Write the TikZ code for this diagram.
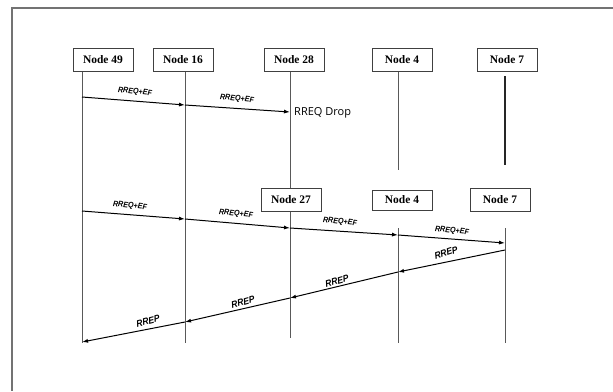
\documentclass[tikz,border=0pt]{standalone}
\usepackage{fontspec}
\setmainfont{Liberation Serif}
\setsansfont{Liberation Sans}
\newfontfamily\dropfont{Open Sans}
\usetikzlibrary{arrows.meta}
\begin{document}
\begin{tikzpicture}[x=1pt,y=-1pt,
  box/.style={draw=black!75, line width=0.9pt, fill=white, minimum width=60pt, minimum height=23pt,
    font=\bfseries\fontsize{11.5}{12}\selectfont, inner sep=1pt},
  life/.style={draw=black!65, line width=0.9pt},
  msg/.style={draw=black, line width=1pt, -{Latex[length=6pt,width=4pt]}},
  lbl/.style={font=\sffamily\bfseries\itshape\fontsize{8}{9}\selectfont, inner sep=1pt, xscale=0.9},
  rlbl/.style={font=\sffamily\bfseries\itshape\fontsize{9.5}{10}\selectfont, inner sep=1pt, xscale=0.9}]
\useasboundingbox (0,0) rectangle (613,391);
\fill[white] (0,0) rectangle (613,391);
% outer frame (cut off at right and bottom)
\draw[black!55, line width=1.6pt] (613,8) -- (12,8) -- (12,391);

% top row of nodes
\node[box] (n49) at (103,60) {Node 49};
\node[box] (n16) at (183,60) {Node 16};
\node[box] (n28) at (294,60) {Node 28};
\node[box] (n4a) at (402,60) {Node 4};
\node[box] (n7a) at (507,60) {Node 7};
% lower row of nodes
\node[box] (n27) at (291,200) {Node 27};
\node[box, minimum height=20pt] (n4b) at (402,200) {Node 4};
\node[box] (n7b) at (500,200) {Node 7};

% lifeline end points
\coordinate (l49t) at (82,72);   \coordinate (l49b) at (82,343);
\coordinate (l16t) at (185,72);  \coordinate (l16b) at (185,343);
\coordinate (l28t) at (290,72);  \coordinate (l28b) at (290,188);
\coordinate (l27t) at (290,212); \coordinate (l27b) at (290,338);
\coordinate (l4at) at (398,72);  \coordinate (l4ab) at (398,170);
\coordinate (l7at) at (505,76);  \coordinate (l7ab) at (505,165);
\coordinate (l4bt) at (398,228); \coordinate (l4bb) at (398,343);
\coordinate (l7bt) at (505,228); \coordinate (l7bb) at (505,343);

\draw[life] (l49t) -- (l49b);
\draw[life] (l16t) -- (l16b);
\draw[life] (l28t) -- (l28b);
\draw[life] (l27t) -- (l27b);
\draw[life] (l4at) -- (l4ab);
\draw[life, draw=black!85, line width=1.6pt] (l7at) -- (l7ab);
\draw[life] (l4bt) -- (l4bb);
\draw[life] (l7bt) -- (l7bb);

% message points
\coordinate (a1) at (82,97);  \coordinate (a2) at (185,105); \coordinate (a3) at (290,112);
\coordinate (b1) at (82,211); \coordinate (b2) at (185,219); \coordinate (b3) at (290,228);
\coordinate (b4) at (398,235); \coordinate (b5) at (505,243);
\coordinate (c1) at (505,250); \coordinate (c2) at (398,272); \coordinate (c3) at (290,298);
\coordinate (c4) at (185,322); \coordinate (c5) at (82,342);

% first attempt
\draw[msg] (a1) -- (a2);
\draw[msg] (a2) -- (a3);
\node[lbl, rotate=-6] (la1) at (135,92) {RREQ+EF};
\node[lbl, rotate=-6] (la2) at (237,99) {RREQ+EF};
\node[font=\dropfont\fontsize{11}{12}\selectfont, anchor=west, inner sep=0pt] (drop) at (294,113) {RREQ Drop};

% second attempt
\draw[msg] (b1) -- (b2);
\draw[msg] (b2) -- (b3);
\draw[msg] (b3) -- (b4);
\draw[msg] (b4) -- (b5);
\node[lbl, rotate=-6] (lb1) at (130,206) {RREQ+EF};
\node[lbl, rotate=-6] (lb2) at (236,214) {RREQ+EF};
\node[lbl, rotate=-6] (lb3) at (340,222) {RREQ+EF};
\node[lbl, rotate=-6] (lb4) at (452,231) {RREQ+EF};

% replies
\draw[msg] (c1) -- (c2);
\draw[msg] (c2) -- (c3);
\draw[msg] (c3) -- (c4);
\draw[msg] (c4) -- (c5);
\node[rlbl, rotate=17] (lc1) at (446,253) {RREP};
\node[rlbl, rotate=14] (lc2) at (337,281) {RREP};
\node[rlbl, rotate=14] (lc3) at (243,302) {RREP};
\node[rlbl, rotate=13] (lc4) at (148,321) {RREP};
\end{tikzpicture}
\end{document}
